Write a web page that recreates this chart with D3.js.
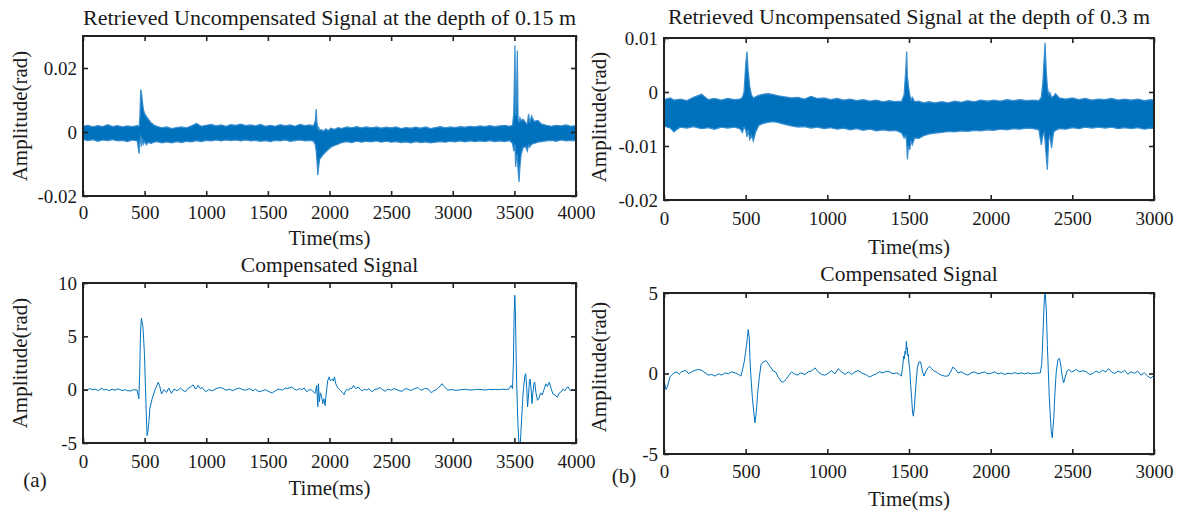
<!DOCTYPE html>
<html>
<head>
<meta charset="utf-8">
<script src="https://cdn.jsdelivr.net/npm/d3@7"></script>
<style>
  body { margin: 0; background: #fff; }
  svg text { font-family: "Liberation Serif", "Times New Roman", serif; fill: #1a1a1a; }
</style>
</head>
<body>
<svg id="chart" width="1180" height="512"></svg>
<script>

// ---- (a) 0.15 m, retrieved signal: envelope of the dense trace (rad) ----
const timeA = [
  0, 40, 80, 120, 160, 200, 240, 280, 320, 360,
  400, 440, 455, 462, 468, 475, 482, 490, 500, 515,
  530, 550, 575, 600, 640, 680, 720, 760, 800, 840,
  880, 920, 960, 1000, 1040, 1080, 1120, 1160, 1200, 1240,
  1280, 1320, 1360, 1400, 1440, 1480, 1520, 1560, 1600, 1640,
  1680, 1720, 1760, 1800, 1840, 1870, 1885, 1892, 1898, 1905,
  1912, 1920, 1935, 1950, 1970, 1990, 2010, 2040, 2070, 2100,
  2140, 2180, 2220, 2260, 2300, 2340, 2380, 2420, 2460, 2500,
  2540, 2580, 2620, 2660, 2700, 2740, 2780, 2820, 2860, 2900,
  2940, 2980, 3020, 3060, 3100, 3140, 3180, 3220, 3260, 3300,
  3340, 3380, 3420, 3460, 3485, 3495, 3505, 3510, 3518, 3524,
  3530, 3538, 3545, 3555, 3570, 3590, 3605, 3615, 3625, 3640,
  3660, 3690, 3720, 3760, 3800, 3840, 3880, 3920, 3960, 4000
];
const upperA = [
  .0018, .0021, .0016, .0020, .0017, .0023, .0017, .0020, .0016, .0019,
  .0017, .0020, .0018, .0050, .0133, .0120, .0095, .0070, .0058, .0048,
  .0040, .0030, .0022, .0018, .0013, .0016, .0011, .0014, .0016, .0013,
  .0019, .0027, .0018, .0021, .0024, .0019, .0022, .0018, .0023, .0021,
  .0025, .0020, .0022, .0019, .0024, .0018, .0021, .0018, .0023, .0019,
  .0022, .0018, .0024, .0020, .0022, .0019, .0035, .0072, .0030, .0010,
  .0015, .0005, .0008, .0002, .0010, .0004, .0012, .0008, .0014, .0011,
  .0016, .0013, .0017, .0013, .0016, .0013, .0016, .0012, .0015, .0013,
  .0016, .0011, .0014, .0012, .0015, .0012, .0016, .0011, .0014, .0017,
  .0013, .0016, .0014, .0017, .0015, .0018, .0016, .0019, .0017, .0020,
  .0017, .0019, .0021, .0018, .0021, .0060, .0271, .0050, .0120, .0255,
  .0040, .0030, .0045, .0035, .0040, .0030, .0025, .0057, .0030, .0050,
  .0033, .0036, .0025, .0021, .0018, .0021, .0019, .0022, .0018, .0020
];
const lowerA = [
  -.0023, -.0027, -.0024, -.0029, -.0025, -.0027, -.0024, -.0028, -.0026, -.0030,
  -.0025, -.0028, -.0068, -.0030, -.0010, -.0045, -.0020, -.0038, -.0030, -.0040,
  -.0032, -.0036, -.0032, -.0030, -.0034, -.0031, -.0034, -.0030, -.0033, -.0029,
  -.0031, -.0027, -.0030, -.0026, -.0028, -.0025, -.0028, -.0025, -.0027, -.0025,
  -.0028, -.0025, -.0028, -.0026, -.0029, -.0027, -.0030, -.0026, -.0028, -.0025,
  -.0029, -.0027, -.0025, -.0028, -.0026, -.0029, -.0040, -.0060, -.0090, -.0135,
  -.0110, -.0085, -.0078, -.0070, -.0062, -.0055, -.0048, -.0042, -.0038, -.0033,
  -.0030, -.0033, -.0029, -.0032, -.0029, -.0031, -.0028, -.0032, -.0029, -.0032,
  -.0030, -.0033, -.0031, -.0034, -.0030, -.0033, -.0031, -.0034, -.0032, -.0030,
  -.0032, -.0029, -.0031, -.0028, -.0031, -.0028, -.0030, -.0028, -.0030, -.0027,
  -.0030, -.0028, -.0030, -.0027, -.0035, -.0060, -.0040, -.0109, -.0080, -.0070,
  -.0120, -.0156, -.0110, -.0070, -.0050, -.0045, -.0060, -.0040, -.0047, -.0038,
  -.0036, -.0032, -.0030, -.0028, -.0026, -.0029, -.0025, -.0028, -.0026, -.0027
];

// ---- (b) 0.3 m, retrieved signal envelope (rad) ----
const timeB = [
  0, 40, 60, 100, 140, 180, 230, 270, 310, 350,
  390, 430, 465, 480, 490, 500, 508, 515, 525, 535,
  547, 560, 580, 610, 640, 670, 700, 740, 780, 820,
  860, 900, 940, 980, 1020, 1060, 1100, 1140, 1180, 1220,
  1260, 1300, 1340, 1380, 1420, 1455, 1470, 1480, 1486, 1490,
  1497, 1505, 1512, 1520, 1535, 1560, 1590, 1620, 1660, 1700,
  1740, 1780, 1820, 1860, 1900, 1940, 1980, 2020, 2060, 2100,
  2140, 2180, 2220, 2260, 2295, 2310, 2320, 2327, 2333, 2340,
  2347, 2355, 2362, 2373, 2385, 2397, 2420, 2460, 2500, 2540,
  2580, 2620, 2660, 2700, 2740, 2780, 2820, 2860, 2900, 2940,
  2980, 3000
];
const upperB = [
  -.0014, -.0011, -.0015, -.0013, -.0016, -.0010, -.0004, -.0014, -.0012, -.0015,
  -.0012, -.0014, -.0013, -.0010, .0000, .0050, .0075, .0040, .0010, -.0005,
  -.0011, -.0009, -.0006, -.0004, -.0003, -.0005, -.0007, -.0009, -.0011, -.0010,
  -.0013, -.0008, -.0012, -.0011, -.0014, -.0012, -.0015, -.0013, -.0016, -.0014,
  -.0017, -.0015, -.0018, -.0016, -.0018, -.0017, -.0005, .0040, .0075, .0030,
  .0010, -.0005, -.0015, -.0010, -.0018, -.0017, -.0020, -.0018, -.0020, -.0018,
  -.0020, -.0017, -.0019, -.0016, -.0018, -.0015, -.0017, -.0015, -.0017, -.0014,
  -.0016, -.0014, -.0016, -.0015, -.0016, -.0010, .0020, .0060, .0091, .0040,
  .0010, -.0005, -.0001, -.0010, -.0008, -.0003, -.0011, -.0013, -.0011, -.0014,
  -.0012, -.0015, -.0013, -.0014, -.0012, -.0015, -.0013, -.0015, -.0013, -.0016,
  -.0014, -.0015
];
const lowerB = [
  -.0063, -.0067, -.0074, -.0065, -.0067, -.0064, -.0068, -.0066, -.0069, -.0065,
  -.0067, -.0065, -.0068, -.0075, -.0065, -.0070, -.0083, -.0070, -.0088, -.0080,
  -.0091, -.0075, -.0062, -.0058, -.0056, -.0055, -.0057, -.0060, -.0063, -.0065,
  -.0064, -.0067, -.0065, -.0068, -.0066, -.0069, -.0067, -.0070, -.0068, -.0071,
  -.0069, -.0072, -.0070, -.0072, -.0071, -.0076, -.0085, -.0080, -.0095, -.0125,
  -.0100, -.0107, -.0090, -.0098, -.0085, -.0086, -.0081, -.0078, -.0076, -.0075,
  -.0073, -.0074, -.0072, -.0073, -.0071, -.0072, -.0070, -.0071, -.0069, -.0070,
  -.0068, -.0069, -.0067, -.0068, -.0070, -.0098, -.0080, -.0075, -.0090, -.0120,
  -.0144, -.0090, -.0080, -.0104, -.0075, -.0071, -.0068, -.0069, -.0066, -.0068,
  -.0065, -.0067, -.0065, -.0067, -.0065, -.0068, -.0066, -.0068, -.0066, -.0069,
  -.0067, -.0068
];

// ---- (a) compensated signal (rad) ----
const timeC = [
  0, 30, 55, 75, 100, 125, 154, 168, 190, 210,
  236, 260, 285, 317, 340, 360, 385, 410, 439, 453,
  460, 467, 474, 485, 492, 499, 507, 514, 520, 528,
  535, 542, 561, 583, 600, 610, 623, 637, 656, 678,
  696, 718, 737, 764, 791, 810, 832, 850, 873, 894,
  913, 935, 950, 967, 995, 1020, 1050, 1080, 1110, 1130,
  1160, 1190, 1211, 1240, 1270, 1295, 1320, 1350, 1380, 1400,
  1428, 1455, 1480, 1510, 1537, 1560, 1590, 1618, 1640, 1658,
  1693, 1715, 1734, 1755, 1774, 1795, 1815, 1835, 1856, 1883,
  1896, 1905, 1910, 1918, 1925, 1932, 1940, 1945, 1953, 1958,
  1964, 1972, 1980, 1986, 1992, 1997, 2005, 2013, 2024, 2032,
  2040, 2051, 2062, 2073, 2090, 2100, 2119, 2130, 2140, 2155,
  2167, 2180, 2195, 2205, 2214, 2235, 2250, 2268, 2285, 2303,
  2320, 2344, 2365, 2384, 2411, 2430, 2452, 2475, 2501, 2525,
  2547, 2565, 2588, 2610, 2628, 2650, 2669, 2690, 2718, 2735,
  2750, 2770, 2791, 2810, 2826, 2845, 2859, 2875, 2891, 2913,
  2925, 2934, 2950, 2961, 2980, 2994, 3020, 3048, 3075, 3102,
  3130, 3157, 3185, 3211, 3240, 3265, 3290, 3319, 3350, 3380,
  3400, 3430, 3455, 3475, 3485, 3492, 3498, 3503, 3508, 3513,
  3518, 3524, 3530, 3537, 3545, 3552, 3560, 3568, 3575, 3585,
  3592, 3600, 3607, 3615, 3622, 3628, 3636, 3643, 3650, 3658,
  3665, 3675, 3688, 3700, 3712, 3726, 3740, 3755, 3768, 3784,
  3798, 3813, 3830, 3849, 3865, 3880, 3893, 3910, 3925, 3937,
  3955, 3968, 3981, 4000
];
const ampC = [
  .05, -.05, .1, 0, .05, -.08, .15, -.05, .05, -.1,
  .03, -.05, .08, -.08, 0, -.1, -.12, 0, -.05, -.85,
  1.5, 5.5, 6.7, 6.0, 4.8, 3.2, .1, -2.5, -4.3, -3.8,
  -3.0, -1.8, -.85, -.05, .4, .7, .3, -.4, 0, -.25,
  .15, -.35, .05, -.1, .15, -.05, -.2, .1, .25, .45,
  .05, .4, .1, .2, -.2, 0, -.1, .1, .2, .15,
  -.05, .05, -.1, .05, .15, 0, -.05, .1, -.1, .05,
  -.2, -.1, 0, -.2, -.3, -.1, .05, -.05, .15, .1,
  .25, .05, -.05, .1, 0, .15, -.2, 0, -.05, -.35,
  .4, -1.6, .56, -1.15, -.3, -.5, -.9, -1.3, -.85, -1.0,
  -1.5, -.5, .3, .9, 1.0, 1.2, .85, .9, 1.0, .8,
  1.2, .55, .3, .1, -.1, -.2, -.47, -.1, 0, -.05,
  .15, .1, .4, .2, .1, .25, 0, -.1, .05, -.05,
  .1, -.2, 0, .05, .2, 0, -.15, .05, -.05, .1,
  0, -.1, -.15, .05, .1, -.05, -.05, .1, .2, 0,
  -.05, .1, .1, -.05, -.3, -.1, -.05, .1, .25, .56,
  .35, .25, .05, -.05, 0, 0, -.05, -.05, .02, .03,
  -.02, -.03, .02, .03, 0, -.03, .02, 0, .03, 0,
  .05, .02, .05, .4, .1, 2.5, 7.0, 8.85, 7.5, 4.0,
  1.0, -1.5, -3.5, -5.0, -5.6, -4.2, -2.5, -.8, .2, 1.3,
  1.5, .2, -1.6, -.5, .8, 1.0, 0, -1.3, -.3, .5,
  .7, -.3, -1.0, -.8, -.3, -.5, 0, .55, .3, .7,
  .1, -.4, -.5, -.7, -.3, -.2, .05, -.1, .2, .25,
  -.1, 0, -.05, .05
];

// ---- (b) compensated signal (rad) ----
const timeD = [
  0, 12, 22, 37, 57, 78, 92, 108, 133, 149,
  169, 190, 210, 231, 251, 271, 292, 312, 333, 353,
  373, 394, 414, 435, 455, 471, 481, 492, 499, 506,
  511, 516, 522, 526, 530, 535, 541, 549, 557, 563,
  568, 573, 583, 594, 608, 624, 639, 655, 669, 683,
  700, 716, 730, 747, 765, 781, 798, 818, 838, 863,
  883, 908, 924, 944, 965, 985, 1006, 1026, 1047, 1067,
  1087, 1108, 1128, 1149, 1169, 1190, 1210, 1240, 1259, 1280,
  1300, 1320, 1341, 1361, 1382, 1402, 1422, 1443, 1453, 1459,
  1463, 1467, 1471, 1476, 1480, 1484, 1487, 1490, 1493, 1496,
  1500, 1504, 1510, 1516, 1522, 1527, 1533, 1541, 1551, 1561,
  1571, 1582, 1592, 1602, 1616, 1626, 1639, 1653, 1667, 1682,
  1698, 1718, 1739, 1755, 1769, 1786, 1800, 1820, 1841, 1861,
  1881, 1902, 1922, 1943, 1963, 1984, 2004, 2025, 2045, 2065,
  2085, 2106, 2126, 2147, 2167, 2187, 2208, 2228, 2249, 2269,
  2290, 2304, 2312, 2316, 2320, 2324, 2328, 2334, 2338, 2341,
  2347, 2353, 2359, 2365, 2371, 2377, 2383, 2387, 2392, 2397,
  2402, 2412, 2422, 2430, 2438, 2447, 2455, 2467, 2479, 2494,
  2508, 2524, 2545, 2565, 2586, 2606, 2625, 2645, 2665, 2685,
  2705, 2722, 2740, 2760, 2780, 2800, 2820, 2840, 2860, 2880,
  2900, 2920, 2940, 2960, 2980, 3000
];
const ampD = [
  -.37, -1.0, -.8, -.2, 0, .1, -.05, .1, .2, 0,
  .1, .2, .25, .2, .05, -.1, -.06, -.16, -.02, -.1,
  .04, -.02, .1, .04, -.06, -.16, .25, .77, 1.3, 1.8,
  2.3, 2.73, 2.2, 1.0, .15, -.6, -1.5, -2.34, -3.06, -2.55,
  -2.0, -1.3, -.27, .56, .72, .8, .6, .35, .15, .1,
  -.23, -.48, -.54, -.37, -.1, .1, -.02, -.1, .04, -.06,
  .1, .18, .35, .1, -.06, -.1, .02, .18, -.02, .3,
  .1, -.06, .1, -.06, .1, .18, .04, -.1, -.22, -.1,
  -.02, .1, .04, .14, .1, -.02, .04, -.06, -.16, .25,
  .6, 1.08, .9, 1.4, 1.2, 2.0, 1.5, 1.6, 1.1, 1.2,
  .6, .35, -.68, -1.5, -2.44, -2.65, -2.1, -.9, .35, .72,
  .72, .15, -.16, .1, .35, .45, .3, .15, .1, -.02,
  -.1, -.16, -.16, .1, .4, .25, .04, .1, -.02, -.1,
  .04, .1, -.02, .04, .1, -.02, .02, .1, -.02, .04,
  -.06, .02, -.02, .06, -.02, .04, -.02, .04, -.02, .02,
  .02, .04, .56, 1.3, 2.4, 3.5, 4.5, 5.2, 4.3, 3.9,
  1.8, .15, -1.5, -2.55, -3.6, -4.0, -3.2, -2.7, -1.5, -.6,
  .15, .87, .93, .45, -.16, -.58, -.27, .15, .25, .1,
  .15, .25, .1, .18, .1, -.06, 0, .15, .05, .2,
  .1, .3, .1, 0, .15, .05, .2, -.05, .1, 0,
  .15, -.1, .05, -.15, -.3, -.1
];

// ---- ticks and labels ----
const xTicks4000 = [0, 500, 1000, 1500, 2000, 2500, 3000, 3500, 4000];
const xTicks3000 = [0, 500, 1000, 1500, 2000, 2500, 3000];
const yTicksA = [-0.02, 0, 0.02];
const yTicksB = [-0.02, -0.01, 0, 0.01];
const yTicksC = [-5, 0, 5, 10];
const yTicksD = [-5, 0, 5];
const titleA = "Retrieved Uncompensated Signal at the depth of 0.15 m";
const titleB = "Retrieved Uncompensated Signal at the depth of 0.3 m";
const titleComp = "Compensated Signal";
const xLabel = "Time(ms)";
const yLabel = "Amplitude(rad)";

const blue = "#0072BD";
const svg = d3.select("#chart");

function drawPanel(p) {
    let xScale = d3.scaleLinear().domain([0, p.xMax]).range([p.x0, p.x1]);
    let yScale = d3.scaleLinear().domain(p.yDomain).range([p.y1, p.y0]);
    let g = svg.append("g");

    g.append("clipPath").attr("id", "clip-" + p.id)
        .append("rect")
        .attr("x", p.x0).attr("y", p.y0)
        .attr("width", p.x1 - p.x0).attr("height", p.y1 - p.y0);

    let plot = g.append("g").attr("clip-path", "url(#clip-" + p.id + ")");
    let idx = d3.range(p.time.length);

    if (p.lower) {
        // dense trace drawn as its min/max band
        let area = d3.area()
            .x(i => xScale(p.time[i]))
            .y0(i => yScale(p.lower[i]))
            .y1(i => yScale(p.upper[i]));
        plot.append("path").datum(idx)
            .attr("d", area)
            .attr("fill", blue)
            .attr("stroke", "#3a8fd0")
            .attr("stroke-width", 1.2);
    } else {
        let line = d3.line()
            .x(i => xScale(p.time[i]))
            .y(i => yScale(p.amp[i]));
        plot.append("path").datum(idx)
            .attr("d", line)
            .attr("fill", "none")
            .attr("stroke", blue)
            .attr("stroke-width", 1);
    }

    let fmt = d => String(d);
    g.append("g").attr("transform", "translate(0," + p.y1 + ")")
        .call(d3.axisBottom(xScale).tickValues(p.xTicks).tickFormat(fmt)
            .tickSize(-5).tickSizeOuter(0).tickPadding(p.padX));
    g.append("g").attr("transform", "translate(0," + p.y0 + ")")
        .call(d3.axisTop(xScale).tickValues(p.xTicks).tickFormat("")
            .tickSize(-5).tickSizeOuter(0));
    g.append("g").attr("transform", "translate(" + p.x0 + ",0)")
        .call(d3.axisLeft(yScale).tickValues(p.yTicks).tickFormat(fmt)
            .tickSize(-5).tickSizeOuter(0).tickPadding(6));
    g.append("g").attr("transform", "translate(" + p.x1 + ",0)")
        .call(d3.axisRight(yScale).tickValues(p.yTicks).tickFormat("")
            .tickSize(-5).tickSizeOuter(0));

    g.selectAll(".domain").remove();
    g.selectAll(".tick line").attr("stroke", "#222").attr("stroke-width", 1.6);
    g.selectAll("g").attr("font-family", null).attr("font-size", null);
    g.selectAll(".tick text").style("font-size", "19px");

    g.append("rect")
        .attr("x", p.x0).attr("y", p.y0)
        .attr("width", p.x1 - p.x0).attr("height", p.y1 - p.y0)
        .attr("fill", "none")
        .attr("stroke", "#222")
        .attr("stroke-width", 2);

    g.append("text")
        .attr("x", (p.x0 + p.x1) / 2).attr("y", p.titleY)
        .attr("text-anchor", "middle")
        .style("font-size", p.titleSize + "px")
        .text(p.title);

    g.append("text")
        .attr("x", (p.x0 + p.x1) / 2).attr("y", p.xLabelY)
        .attr("text-anchor", "middle")
        .style("font-size", "21px")
        .text(xLabel);

    g.append("text")
        .attr("transform", "translate(" + p.yLabelX + "," + p.yLabelMid + ") rotate(-90)")
        .attr("text-anchor", "middle")
        .style("font-size", "21px")
        .text(yLabel);

    if (p.tag) {
        g.append("text")
            .attr("x", p.tag[0]).attr("y", p.tag[1])
            .attr("text-anchor", "middle")
            .style("font-size", "21px")
            .text(p.tag[2]);
    }
}

drawPanel({ id: "a1", time: timeA, upper: upperA, lower: lowerA,
    xMax: 4000, yDomain: [-0.02, 0.03], xTicks: xTicks4000, yTicks: yTicksA,
    x0: 83, x1: 576, y0: 36, y1: 196, padX: 10,
    title: titleA, titleSize: 22, titleY: 25, xLabelY: 245, yLabelX: 27, yLabelMid: 116 });

drawPanel({ id: "b1", time: timeB, upper: upperB, lower: lowerB,
    xMax: 3000, yDomain: [-0.02, 0.01], xTicks: xTicks3000, yTicks: yTicksB,
    x0: 664, x1: 1154, y0: 38, y1: 200, padX: 12,
    title: titleB, titleSize: 22, titleY: 24, xLabelY: 254, yLabelX: 606, yLabelMid: 117 });

drawPanel({ id: "a2", time: timeC, amp: ampC,
    xMax: 4000, yDomain: [-5, 10], xTicks: xTicks4000, yTicks: yTicksC,
    x0: 83, x1: 576, y0: 283, y1: 443, padX: 12,
    title: titleComp, titleSize: 21.5, titleY: 272, xLabelY: 495, yLabelX: 27, yLabelMid: 363,
    tag: [35, 487, "(a)"] });

drawPanel({ id: "b2", time: timeD, amp: ampD,
    xMax: 3000, yDomain: [-5, 5], xTicks: xTicks3000, yTicks: yTicksD,
    x0: 664, x1: 1154, y0: 293, y1: 454, padX: 11,
    title: titleComp, titleSize: 21.5, titleY: 281, xLabelY: 506, yLabelX: 606, yLabelMid: 367,
    tag: [624, 483, "(b)"] });

</script>
</body>
</html>
